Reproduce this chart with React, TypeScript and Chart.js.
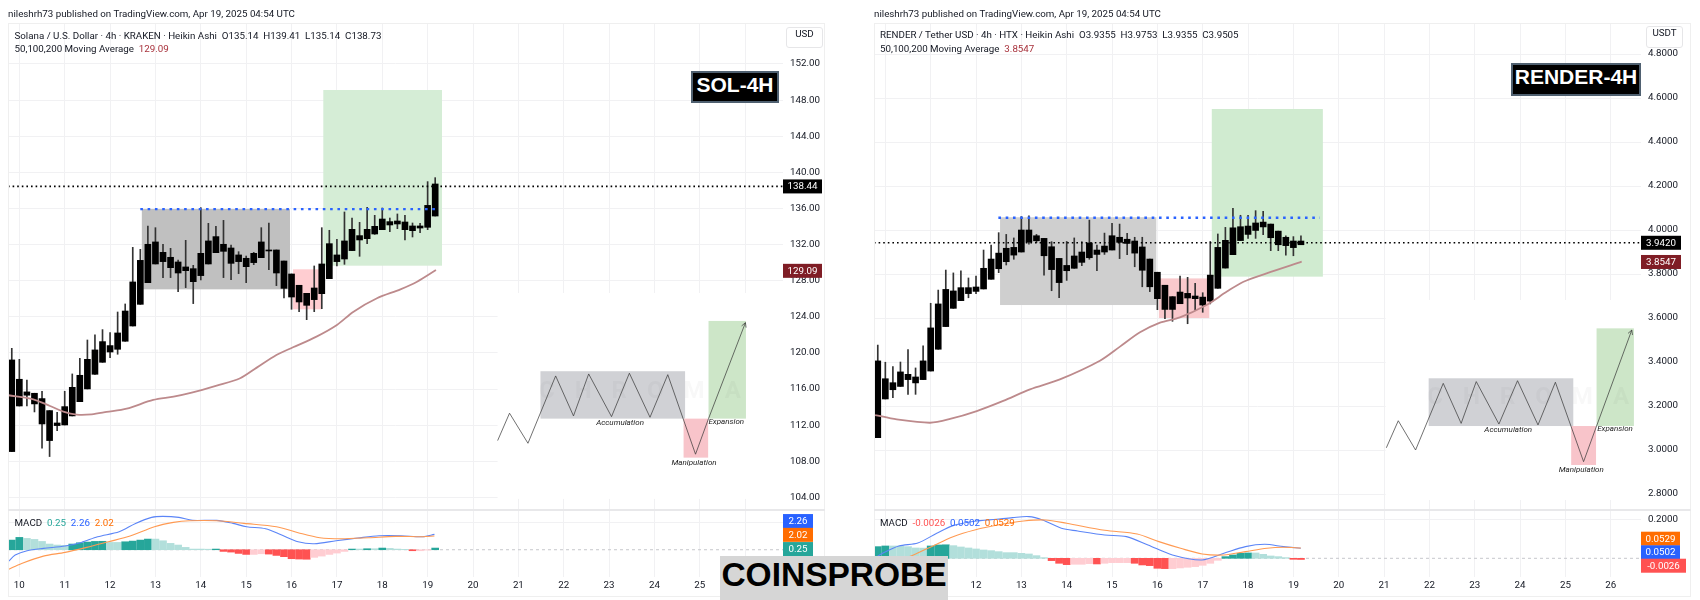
import React, { useEffect, useRef } from "react";
import { Chart, registerables } from "chart.js";

Chart.register(...registerables);

// ---------- SOL prices (4h Heikin Ashi) ----------
const solHigh = [120.51,119.29,117.0,115.53,115.75,113.61,113.42,115.75,117.67,119.40,121.43,121.99,122.58,122.25,124.53,125.42,131.69,131.47,134.06,133.87,132.03,131.58,130.29,132.47,129.70,136.09,134.35,134.02,134.68,131.95,131.21,130.73,131.14,133.87,134.39,131.40,130.18,128.74,127.49,126.60,129.63,133.87,133.58,132.58,135.61,134.94,134.46,136.12,135.24,136.05,134.94,135.39,135.24,134.39,134.35,138.97,139.41];
const solTop = [119.22,117.08,115.68,115.53,114.94,113.61,112.24,114.05,116.19,117.52,119.29,120.33,121.25,120.81,122.21,124.64,127.86,130.25,132.03,132.29,131.14,130.59,130.07,129.52,129.33,131.03,132.40,132.88,132.03,131.62,130.85,130.48,131.03,132.29,131.36,131.40,130.18,128.74,127.49,126.60,127.19,129.85,132.10,130.85,132.40,133.69,132.99,133.69,134.02,134.83,134.54,134.61,134.50,134.06,134.06,136.34,138.71];
const solBottom = [109.07,114.12,115.31,114.35,112.13,110.29,111.95,112.02,113.02,114.60,116.01,117.63,118.96,120.10,120.40,121.29,122.98,125.38,127.78,129.85,130.11,129.44,128.85,129.11,127.89,128.56,129.85,131.10,131.25,129.92,130.11,129.55,130.0,130.55,131.29,128.85,127.15,126.19,125.64,125.27,125.90,126.56,128.22,130.11,130.40,131.33,132.51,132.65,133.17,133.65,134.17,134.28,133.65,133.54,133.83,133.91,135.16];
const solLow = [109.07,114.12,114.12,113.46,109.44,108.52,111.39,112.02,113.02,114.60,116.01,117.63,118.96,119.48,119.85,121.29,122.98,125.38,127.78,129.85,128.34,128.34,126.79,127.23,125.46,128.08,129.85,131.10,128.34,128.11,128.78,127.78,129.77,130.55,129.22,127.45,126.08,124.83,124.57,123.68,124.57,124.90,128.22,129.63,129.81,131.33,130.70,132.10,133.13,133.65,133.43,133.76,132.51,132.84,133.32,133.65,135.16];
const solMaX = [-0.45,2.85,5.06,6.82,8.58,10.57,12.55,15.2,18.7,21.4,23.8,27.1,30.2,32.4,35.0,37.2,40.3,43.0,45.2,48.3,51.4,53.6,56.1];
const solMaY = [115.31,114.86,114.12,113.50,113.17,113.2,113.46,113.83,114.79,115.16,115.6,116.38,117.19,118.37,119.77,120.62,121.8,123.09,124.57,126.05,127.04,127.89,129.18];
const solTicks = [152,148,144,140,136,132,128,124,120,116,112,108,104];

// ---------- SOL MACD ----------
const solHist = [1.44,1.84,1.69,1.54,1.24,.85,.70,.65,.85,1.04,1.14,1.24,1.26,1.09,1.09,1.19,1.29,1.44,1.59,1.59,1.34,.95,.70,.35,.10,.10,.08,.10,-.25,-.35,-.55,-.70,-.70,-.6,-.65,-.85,-1.04,-1.34,-1.39,-1.42,-1.14,-.95,-.70,-.50,-.25,.1,.1,.15,.15,.25,.2,.1,.05,-.15,-.15,-.05,.25];
const solMacdX = [-0.48,.45,2.03,4.18,7.05,9.2,11.35,14.2,16.37,18.5,19.95,22.1,23.9,27.1,29.27,31.06,33.57,35.7,37.87,40.02,42.9,45.76,48.6,51.5,54.36,55.9];
const solMacdY = [-1.79,-.80,-.15,.20,.55,1.09,1.94,2.69,3.93,4.83,4.98,4.83,4.38,4.38,3.93,3.43,3.13,2.19,1.19,.90,1.34,1.74,2.09,2.09,1.94,2.29];
const solSignalX = [-0.48,1.31,4.18,7.05,9.91,12.78,15.65,18.87,21.38,23.53,27.12,30.7,35,37.87,40.74,43.6,47.19,50.77,54.36,55.9];
const solSignalY = [-2.94,-2.04,-.95,-.40,.35,1.19,2.04,3.43,4.08,4.33,4.33,3.93,3.43,2.54,1.79,1.64,1.79,1.99,1.94,2.04];

// ---------- RENDER prices ----------
const renderHigh = [3.477,3.399,3.379,3.400,3.456,3.373,3.474,3.667,3.727,3.818,3.805,3.814,3.782,3.791,3.909,3.932,3.988,3.980,3.964,4.061,4.064,3.980,3.962,3.947,3.871,3.948,3.964,3.947,4.045,3.932,3.986,4.030,4.027,3.985,3.967,3.967,3.868,3.808,3.749,3.697,3.791,3.785,3.758,3.715,3.948,3.982,4.012,4.098,4.067,4.067,4.088,4.085,4.027,3.995,3.973,3.970,3.974];
const renderTop = [3.405,3.324,3.306,3.355,3.344,3.332,3.405,3.555,3.664,3.730,3.723,3.738,3.738,3.741,3.826,3.868,3.895,3.917,3.921,4.000,4.000,3.974,3.962,3.924,3.871,3.839,3.882,3.900,3.941,3.909,3.927,3.974,3.967,3.958,3.950,3.923,3.868,3.808,3.749,3.697,3.718,3.712,3.700,3.695,3.795,3.921,3.953,4.010,4.015,4.018,4.032,4.036,4.027,3.995,3.967,3.950,3.950];
const renderBottom = [3.056,3.232,3.274,3.289,3.320,3.305,3.320,3.359,3.458,3.561,3.644,3.679,3.711,3.721,3.732,3.776,3.824,3.856,3.886,3.900,3.945,3.951,3.883,3.820,3.761,3.815,3.826,3.853,3.874,3.889,3.900,3.909,3.944,3.939,3.895,3.817,3.742,3.688,3.639,3.639,3.665,3.691,3.688,3.659,3.677,3.735,3.827,3.888,3.952,3.980,3.998,4.014,3.965,3.933,3.929,3.920,3.933];
const renderLow = [3.056,3.232,3.238,3.289,3.253,3.253,3.320,3.359,3.458,3.561,3.644,3.679,3.692,3.711,3.732,3.776,3.806,3.841,3.867,3.900,3.936,3.942,3.795,3.724,3.692,3.771,3.826,3.838,3.867,3.815,3.889,3.909,3.870,3.888,3.833,3.742,3.720,3.638,3.597,3.585,3.665,3.574,3.636,3.626,3.664,3.735,3.827,3.888,3.952,3.962,3.962,3.979,3.906,3.906,3.886,3.883,3.933];
const renderMaX = [-0.35,2.51,6.92,9.57,13.1,16.6,20.15,24.1,29.4,32.05,34.7,37.35,39.99,43.5,46.2,48.4,51.45,56.1];
const renderMaY = [3.159,3.139,3.124,3.141,3.177,3.223,3.276,3.321,3.406,3.470,3.535,3.579,3.603,3.659,3.720,3.765,3.803,3.856];
const renderTicks = [4.8,4.6,4.4,4.2,4.0,3.8,3.6,3.4,3.2,3.0,2.8];

// ---------- RENDER MACD ----------
const renderHist = [.0595,.0629,.0629,.0629,.0595,.0527,.0520,.0629,.0680,.0690,.0646,.0578,.0527,.0476,.0425,.0391,.0340,.0289,.0289,.0255,.0221,.0136,.0034,-.0119,-.0255,-.0323,-.0306,-.0306,-.0272,-.0289,-.0255,-.0221,-.0221,-.0221,-.0255,-.0340,-.0374,-.0510,-.0527,-.0527,-.0493,-.0459,-.0425,-.0357,-.0255,-.0102,.0085,.0170,.0255,.0272,.0272,.0204,.0119,.0085,.0034,-.0051,-.0060];
const renderMacdX = [-0.44,.64,2.79,5.3,7.8,9.96,12.83,15.7,17.84,20.0,21.8,24.3,26.45,30.03,32.9,35.76,38.99,42.9,45.8,48.66,51.2,53.7,55.98];
const renderMacdY = [0,.0255,.0629,.0782,.1276,.1667,.1888,.1990,.2075,.2126,.1956,.1531,.1395,.1190,.1105,.0680,.0170,-.0085,.0255,.0595,.0714,.0595,.0510];
const renderSignalX = [-0.44,2.07,4.22,7.09,9.96,12.83,16.4,19.3,22.15,25.0,30.03,34.33,37.2,40.07,42.94,45.8,48.66,51.5,53.7,55.98];
const renderSignalY = [-.051,-.017,.0085,.0595,.1105,.1446,.1735,.1905,.1956,.1786,.1429,.1241,.0850,.0510,.0221,.0170,.0340,.0510,.0561,.0527];

// ---------- shared axis ----------
const dayLabels = ["10","11","12","13","14","15","16","17","18","19","20","21","22","23","24","25","26"];
const dayIndex = dayLabels.map((_, k) => 1 + k * 6);

// ---------- annotations, in (bar index, price) ----------
const solLevels = { resistance: 135.92, last: 138.44, resFrom: 17, resTo: 56.5 };
const renderLevels = { resistance: 4.056, last: 3.942, resFrom: 15.96, resTo: 58.5 };

const solZones = [
  { kind: "grey", x0: 17.2, x1: 36.8, y0: 127.04, y1: 135.94 },
  { kind: "pink", x0: 37.2, x1: 41.0, y0: 124.83, y1: 129.26 },
  { kind: "green", x0: 41.2, x1: 56.9, y0: 129.66, y1: 149.12 },
];
const renderZones = [
  { kind: "greyLight", x0: 16.18, x1: 36.86, y0: 3.659, y1: 4.058 },
  { kind: "pinkDeep", x0: 37.2, x1: 43.87, y0: 3.600, y1: 3.780 },
  { kind: "greenDeep", x0: 44.2, x1: 58.9, y0: 3.788, y1: 4.55 },
];
const solCover = { x0: 64.25, x1: 103, y0: 103.83, y1: 126.64 };
const renderCover = { x0: 67.2, x1: 102, y0: 2.773, y1: 3.682 };

const solPatternZones = [
  { kind: "patGrey", x0: 69.92, x1: 89.05, y0: 112.72, y1: 117.97 },
  { kind: "patPink", x0: 88.85, x1: 92.1, y0: 108.40, y1: 112.72 },
  { kind: "patGreen", x0: 92.15, x1: 97.1, y0: 112.72, y1: 123.54 },
];
const renderPatternZones = [
  { kind: "patGrey", x0: 72.9, x1: 92.04, y0: 3.109, y1: 3.326 },
  { kind: "patPink", x0: 91.76, x1: 95.05, y0: 2.932, y1: 3.109 },
  { kind: "patGreen", x0: 95.12, x1: 100.06, y0: 3.109, y1: 3.553 },
];
const solZigX = [64.26,65.83,68.27,71.93,74.29,76.3,79.32,81.68,84.41,86.76,90.43,92.15,97.03];
const solZigY = [110.29,113.32,109.99,117.45,113.02,117.67,112.94,117.75,112.87,117.59,108.78,112.72,123.35];
const renderZigX = [67.3,68.88,71.17,74.83,77.2,79.2,82.2,84.66,87.37,89.67,93.4,95.12,99.78];
const renderZigY = [3.010,3.133,3.000,3.303,3.121,3.311,3.118,3.315,3.114,3.308,2.947,3.109,3.545];

const solNotes = [
  { text: "Accumulation", x: 80.45, y: 112.24 },
  { text: "Manipulation", x: 90.24, y: 107.85 },
  { text: "Expansion", x: 94.5, y: 112.35 },
];
const renderNotes = [
  { text: "Accumulation", x: 83.43, y: 3.089 },
  { text: "Manipulation", x: 93.1, y: 2.907 },
  { text: "Expansion", x: 97.56, y: 3.094 },
];
const solWatermark = { text: "CHROMA", x: 84.4, y: 115.68 };
const renderWatermark = { text: "CHROMA", x: 87.4, y: 3.235 };

// ---------- styles ----------
const ZONE_COLORS: any = {
  grey: "#c0c0c0", pink: "#ffcdd1", green: "#d5edd6",
  greyLight: "#cfcfcf", pinkDeep: "#f9c9cc", greenDeep: "#d0ebd0",
  patGrey: "#d0d1d5", patPink: "#f8c4ca", patGreen: "#cde6c8",
};
const GRID = "#f1f1f3";
const FONT = "Roboto, sans-serif";
const TEAL = "#26a69a", TEAL_L = "#b2dfdb", RED = "#ff5252", RED_L = "#ffcdd2";
const BLUE = "#2962ff", ORANGE = "#ff6d00", MAROON = "#7f1d25";

function series(xs: number[], ys: number[]) {
  return xs.map((x, i) => ({ x, y: ys[i] }));
}

function overlay(o: any) {
  return {
    id: "overlay",
    beforeDatasetsDraw(chart: any) {
      const { ctx, scales: { x, y }, chartArea: a } = chart;
      ctx.save();
      ctx.beginPath();
      ctx.rect(a.left, a.top, a.right - a.left, a.bottom - a.top);
      ctx.clip();
      const box = (z: any, c: string) => {
        ctx.fillStyle = c;
        const px0 = x.getPixelForValue(z.x0), px1 = x.getPixelForValue(z.x1);
        const py1 = y.getPixelForValue(z.y1), py0 = y.getPixelForValue(z.y0);
        ctx.fillRect(px0, py1, px1 - px0, py0 - py1);
      };
      if (o.cover) box(o.cover, "#ffffff");
      (o.zones || []).forEach((z: any) => box(z, ZONE_COLORS[z.kind]));
      ctx.restore();
    },
    afterDatasetsDraw(chart: any) {
      const { ctx, scales: { x, y } } = chart;
      ctx.save();
      if (o.watermark) {
        ctx.font = "bold 24px " + FONT;
        (ctx as any).letterSpacing = "20px";
        ctx.fillStyle = "rgba(60,60,70,0.035)";
        ctx.textAlign = "center";
        ctx.textBaseline = "middle";
        ctx.fillText(o.watermark.text, x.getPixelForValue(o.watermark.x), y.getPixelForValue(o.watermark.y));
        (ctx as any).letterSpacing = "0px";
      }
      (o.notes || []).forEach((n: any) => {
        ctx.font = "italic 8px " + FONT;
        ctx.fillStyle = "#222";
        ctx.textAlign = "center";
        ctx.textBaseline = "middle";
        ctx.fillText(n.text, x.getPixelForValue(n.x), y.getPixelForValue(n.y));
      });
      if (o.arrow) {
        const n = o.arrow.x.length - 1;
        const ex = x.getPixelForValue(o.arrow.x[n]), ey = y.getPixelForValue(o.arrow.y[n]);
        const sx = x.getPixelForValue(o.arrow.x[n - 1]), sy = y.getPixelForValue(o.arrow.y[n - 1]);
        const ang = Math.atan2(ey - sy, ex - sx);
        ctx.strokeStyle = "#333";
        ctx.lineWidth = 0.7;
        ctx.beginPath();
        ctx.moveTo(ex - 5 * Math.cos(ang - 0.5), ey - 5 * Math.sin(ang - 0.5));
        ctx.lineTo(ex, ey);
        ctx.lineTo(ex - 5 * Math.cos(ang + 0.5), ey - 5 * Math.sin(ang + 0.5));
        ctx.stroke();
      }
      ctx.restore();
    },
    afterDraw(chart: any) {
      const { ctx, scales: { y }, chartArea: a } = chart;
      ctx.save();
      (o.tags || []).forEach((t: any) => {
        const cy = y.getPixelForValue(t.at);
        ctx.fillStyle = t.bg;
        ctx.fillRect(a.right, cy - 7, t.w, 14);
        ctx.font = "9.75px " + FONT;
        ctx.fillStyle = "#fff";
        ctx.textAlign = "center";
        ctx.textBaseline = "middle";
        ctx.fillText(t.text, a.right + t.w / 2, cy + 0.5);
      });
      ctx.restore();
    },
  };
}

function axisX(xMax: number, labelled: boolean, h: number) {
  return {
    type: "linear",
    min: -0.5,
    max: xMax,
    offset: false,
    border: { display: false },
    grid: { color: GRID, drawTicks: false, lineWidth: 1, offset: false },
    ticks: {
      display: labelled,
      autoSkip: false,
      maxRotation: 0,
      padding: 3,
      color: "#131722",
      font: { size: 9.75, family: FONT },
      callback: (v: number) => dayLabels[dayIndex.indexOf(v)] ?? "",
    },
    afterBuildTicks: (s: any) => { s.ticks = dayIndex.map((value) => ({ value })); },
    afterFit: (s: any) => { s.height = h; s.paddingLeft = 0; s.paddingRight = 0; },
  };
}

function axisY(min: number, max: number, ticks: number[], digits: number, w: number, labelled: boolean) {
  return {
    type: "linear",
    position: "right",
    min,
    max,
    offset: false,
    beginAtZero: false,
    border: { display: false },
    grid: { color: GRID, drawTicks: false, lineWidth: 1, offset: false },
    ticks: {
      display: labelled,
      padding: 7,
      color: "#131722",
      font: { size: 9.75, family: FONT },
      callback: (v: number) => v.toFixed(digits),
    },
    afterBuildTicks: (s: any) => { s.ticks = ticks.map((value) => ({ value })); },
    afterFit: (s: any) => { s.width = w; s.paddingTop = 0; s.paddingBottom = 0; },
  };
}

const hline = (x0: number, x1: number, y: number, color: string, dash: number[], w: number, order: number) => ({
  type: "line",
  data: [{ x: x0, y }, { x: x1, y }],
  borderColor: color,
  borderDash: dash,
  borderWidth: w,
  pointRadius: 0,
  order,
});

function priceConfig(p: any) {
  const idx = p.high.map((_: number, i: number) => i);
  return {
    type: "bar",
    data: {
      datasets: [
        {
          data: idx.map((i: number) => ({ x: i, y: [p.bottom[i], p.top[i]] })),
          backgroundColor: "#000000",
          barThickness: 6,
          minBarLength: 1,
          grouped: false,
          order: 4,
        },
        {
          data: idx.map((i: number) => ({ x: i, y: [p.low[i], p.high[i]] })),
          backgroundColor: "#333333",
          barThickness: 1,
          grouped: false,
          order: 5,
        },
        { type: "line", data: series(p.maX, p.maY), borderColor: "#bd8a8c", borderWidth: 1.8, pointRadius: 0, tension: 0.3, order: 3 },
        { type: "line", data: series(p.zigX, p.zigY), borderColor: "#333333", borderWidth: 0.7, pointRadius: 0, tension: 0, order: 2 },
        hline(p.levels.resFrom, p.levels.resTo, p.levels.resistance, "#2962ff", [2.6, 4.7], 2.4, 1),
        hline(-0.5, p.xMax, p.levels.last, "#000000", [1.6, 3], 1.6, 0),
      ],
    },
    options: {
      responsive: false,
      animation: false,
      events: [],
      layout: { autoPadding: false, padding: 0 },
      plugins: { legend: { display: false }, tooltip: { enabled: false } },
      scales: {
        x: axisX(p.xMax, false, 0),
        y: axisY(p.yMin, p.yMax, p.ticks, p.digits, p.axisW, true),
      },
    },
    plugins: [overlay({
      cover: p.cover,
      zones: [...p.zones, ...p.patternZones],
      notes: p.notes,
      watermark: p.watermark,
      arrow: { x: p.zigX, y: p.zigY },
      tags: p.tags,
    })],
  };
}

function macdConfig(m: any) {
  const colors = m.hist.map((v: number, i: number) => {
    const prev = i ? m.hist[i - 1] : -Infinity;
    if (v >= 0) return v > prev ? TEAL : TEAL_L;
    return v < prev ? RED : RED_L;
  });
  return {
    type: "bar",
    data: {
      datasets: [
        {
          data: m.hist.map((v: number, i: number) => ({ x: i, y: v })),
          backgroundColor: colors,
          barThickness: 7,
          grouped: false,
          order: 4,
        },
        { type: "line", data: series(m.macdX, m.macdY), borderColor: "#5b85f7", borderWidth: 1.1, pointRadius: 0, tension: 0.3, order: 1 },
        { type: "line", data: series(m.signalX, m.signalY), borderColor: "#ff9a52", borderWidth: 1.1, pointRadius: 0, tension: 0.3, order: 0 },
        hline(-0.5, m.xMax, 0, "#c6c8cc", [3, 3], 1, 5),
      ],
    },
    options: {
      responsive: false,
      animation: false,
      events: [],
      layout: { autoPadding: false, padding: 0 },
      plugins: { legend: { display: false }, tooltip: { enabled: false } },
      scales: {
        x: axisX(m.xMax, true, 20),
        y: axisY(m.yMin, m.yMax, m.ticks, m.digits, m.axisW, m.labelled),
      },
    },
    plugins: [overlay({ tags: m.tags })],
  };
}

const configs: any[] = [
  priceConfig({
    high: solHigh, top: solTop, bottom: solBottom, low: solLow, maX: solMaX, maY: solMaY,
    zigX: solZigX, zigY: solZigY, levels: solLevels, xMax: 102, yMin: 102.6, yMax: 156.54,
    ticks: solTicks, digits: 2, axisW: 42, cover: solCover, zones: solZones, patternZones: solPatternZones,
    notes: solNotes, watermark: solWatermark,
    tags: [
      { text: "138.44", at: 138.44, bg: "#000000", w: 39 },
      { text: "129.09", at: 129.09, bg: MAROON, w: 39 },
    ],
  }),
  macdConfig({
    hist: solHist, macdX: solMacdX, macdY: solMacdY, signalX: solSignalX, signalY: solSignalY,
    xMax: 102, yMin: -4.07, yMax: 5.93, ticks: [4], digits: 0, axisW: 42, labelled: false,
    tags: [
      { text: "2.26", at: 4.28, bg: BLUE, w: 30 },
      { text: "2.02", at: 2.22, bg: ORANGE, w: 30 },
      { text: "0.25", at: 0.10, bg: TEAL, w: 30 },
    ],
  }),
  priceConfig({
    high: renderHigh, top: renderTop, bottom: renderBottom, low: renderLow, maX: renderMaX, maY: renderMaY,
    zigX: renderZigX, zigY: renderZigY, levels: renderLevels, xMax: 101, yMin: 2.7273, yMax: 4.941,
    ticks: renderTicks, digits: 4, axisW: 50, cover: renderCover, zones: renderZones, patternZones: renderPatternZones,
    notes: renderNotes, watermark: renderWatermark,
    tags: [
      { text: "3.9420", at: 3.942, bg: "#000000", w: 40 },
      { text: "3.8547", at: 3.8547, bg: MAROON, w: 40 },
    ],
  }),
  macdConfig({
    hist: renderHist, macdX: renderMacdX, macdY: renderMacdY, signalX: renderSignalX, signalY: renderSignalY,
    xMax: 101, yMin: -0.0954, yMax: 0.2464, ticks: [0.2], digits: 4, axisW: 50, labelled: true,
    tags: [
      { text: "0.0529", at: 0.1, bg: ORANGE, w: 39 },
      { text: "0.0502", at: 0.0306, bg: BLUE, w: 39 },
      { text: "-0.0026", at: -0.0378, bg: RED, w: 45 },
    ],
  }),
];

const boxes = [
  { left: 8, top: 23, width: 817, height: 487 },
  { left: 8, top: 510, width: 817, height: 87 },
  { left: 874, top: 23, width: 817, height: 487 },
  { left: 874, top: 510, width: 817, height: 87 },
];

const abs = (left: number, top: number, extra: any = {}): any => ({
  position: "absolute", left, top, whiteSpace: "pre", lineHeight: 1, font: `9.75px ${FONT}`, color: "#131722", ...extra,
});

export default function App() {
  const refs = useRef<(HTMLCanvasElement | null)[]>([]);
  useEffect(() => {
    const charts = configs.map((c, i) => new Chart(refs.current[i] as any, c));
    return () => charts.forEach((c) => c.destroy());
  }, []);
  return (
    <div style={{ position: "absolute", left: 0, top: 0, width: 1700, height: 600, overflow: "hidden", background: "#fff", fontFamily: FONT }}>
      {boxes.map((b, i) => (
        <canvas key={i} ref={(el) => { refs.current[i] = el; }} width={b.width} height={b.height}
          style={{ position: "absolute", left: b.left, top: b.top, width: b.width, height: b.height, display: "block" }} />
      ))}
      <div style={{ position: "absolute", left: 8, top: 23, width: 815, height: 572, border: "1px solid #efefef", pointerEvents: "none" }} />
      <div style={{ position: "absolute", left: 874, top: 23, width: 815, height: 572, border: "1px solid #efefef", pointerEvents: "none" }} />
      <div style={{ position: "absolute", left: 8, top: 509, width: 817, height: 2, background: "#e8e8ea" }} />
      <div style={{ position: "absolute", left: 874, top: 509, width: 817, height: 2, background: "#e8e8ea" }} />

      <div style={abs(8, 8)}>nileshrh73 published on TradingView.com, Apr 19, 2025 04:54 UTC</div>
      <div style={abs(874, 8)}>nileshrh73 published on TradingView.com, Apr 19, 2025 04:54 UTC</div>

      <div style={abs(14.5, 30)}>Solana / U.S. Dollar · 4h · KRAKEN · Heikin Ashi  O135.14  H139.41  L135.14  C138.73</div>
      <div style={abs(14.5, 43)}>50,100,200 Moving Average  <span style={{ color: "#a8323c" }}>129.09</span></div>
      <div style={abs(880, 29)}>RENDER / Tether USD · 4h · HTX · Heikin Ashi  O3.9355  H3.9753  L3.9355  C3.9505</div>
      <div style={abs(880, 43)}>50,100,200 Moving Average  <span style={{ color: "#a8323c" }}>3.8547</span></div>

      <div style={abs(14.5, 517)}>MACD  <span style={{ color: TEAL }}>0.25</span>  <span style={{ color: "#2962ff" }}>2.26</span>  <span style={{ color: ORANGE }}>2.02</span></div>
      <div style={abs(880, 517)}>MACD  <span style={{ color: RED }}>-0.0026</span>  <span style={{ color: "#2962ff" }}>0.0502</span>  <span style={{ color: ORANGE }}>0.0529</span></div>

      <div style={abs(786, 27, { width: 35, height: 19, border: "1px solid #e6e6e8", borderRadius: 3, textAlign: "center", lineHeight: "19px", background: "#fff" })}>USD</div>
      <div style={abs(1646, 26, { width: 35, height: 20, border: "1px solid #e6e6e8", borderRadius: 3, textAlign: "center", lineHeight: "20px", background: "#fff" })}>USDT</div>

      <div style={abs(691, 71, { width: 84, height: 28, background: "#000", border: "2px solid #4f6070", color: "#fff", font: `bold 21px "Liberation Sans", sans-serif`, lineHeight: "28px", textAlign: "center" })}>SOL-4H</div>
      <div style={abs(1511, 63, { width: 126, height: 29, background: "#000", border: "2px solid #4f6070", color: "#fff", font: `bold 21px "Liberation Sans", sans-serif`, lineHeight: "29px", textAlign: "center" })}>RENDER-4H</div>

      <div style={abs(720, 556, { width: 228, height: 44, background: "#d6d6d6", color: "#000", font: `bold 33.5px "Liberation Sans", sans-serif`, lineHeight: "44px", textAlign: "center" })}>COINSPROBE</div>
    </div>
  );
}
